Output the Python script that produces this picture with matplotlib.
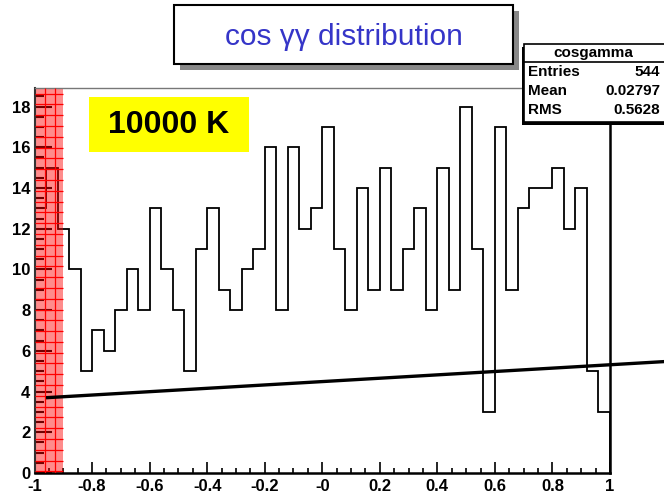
import matplotlib.pyplot as plt
import numpy as np
from matplotlib.patches import Rectangle
from matplotlib.lines import Line2D
from matplotlib.ticker import FixedLocator, FixedFormatter, MultipleLocator

plt.rcParams['font.family'] = ['Liberation Sans', 'DejaVu Sans']

# cos(gamma gamma) histogram, 50 bins on [-1, 1]
x_min, x_max, n_bins = -1.0, 1.0, 50
counts = [13, 15, 12, 10, 5, 7, 6, 8, 10, 8,
          13, 10, 8, 5, 11, 13, 9, 8, 10, 11,
          16, 8, 16, 12, 13, 17, 11, 8, 14, 9,
          15, 9, 11, 13, 8, 15, 9, 18, 11, 3,
          17, 9, 13, 14, 14, 15, 12, 14, 5, 3]

# straight-line fit y = p0 + p1*x
fit_p0, fit_p1 = 4.49, 0.826
fit_range = (-0.96, 1.19)

# excluded region (shaded red, gridded)
cut_range = (-1.0, -0.9)

xtick_vals = [-1, -0.8, -0.6, -0.4, -0.2, 0, 0.2, 0.4, 0.6, 0.8, 1]
xtick_labels = ['-1', '-0.8', '-0.6', '-0.4', '-0.2', '-0', '0.2', '0.4', '0.6', '0.8', '1']
ytick_vals = [0, 2, 4, 6, 8, 10, 12, 14, 16, 18]

title = 'cos γγ distribution'
label = '10000 K'
stats_name = 'cosgamma'
stats_rows = [('Entries', '544'), ('Mean', '0.02797'), ('RMS', '0.5628')]

W, H = 664, 494
YTOP = 18.91


def fx(px):
    return px / W


def fy(py):
    return 1 - py / H


fig = plt.figure(figsize=(W / 100, H / 100), dpi=100)
ax = fig.add_axes([fx(34.5), fy(473), fx(610) - fx(34.5), (473 - 88) / H])

edges = np.linspace(x_min, x_max, n_bins + 1)
ax.stairs(counts, edges, color='black', linewidth=1.3, zorder=1.8)

# red band over the cut region, with its own grid
ax.add_patch(Rectangle((cut_range[0], 0), cut_range[1] - cut_range[0], YTOP,
                       facecolor=(1, 0, 0, 0.45), edgecolor='none', zorder=2.5))
ax.vlines(np.arange(cut_range[0] + 0.036, cut_range[1], 0.036), 0, YTOP,
          color='red', linewidth=0.9, zorder=2.6)
ax.hlines(np.arange(0.08, YTOP, 0.53), cut_range[0], cut_range[1],
          color='red', linewidth=0.9, zorder=2.6)

fx_line = np.array(fit_range)
ax.plot(fx_line, fit_p0 + fit_p1 * fx_line, color='black', linewidth=2.4,
        clip_on=False, zorder=3, solid_capstyle='butt')

ax.set_xlim(x_min, x_max)
ax.set_ylim(0, YTOP)

ax.xaxis.set_major_locator(FixedLocator(xtick_vals))
ax.xaxis.set_major_formatter(FixedFormatter(xtick_labels))
ax.xaxis.set_minor_locator(MultipleLocator(0.05))
ax.yaxis.set_major_locator(FixedLocator(ytick_vals))
ax.yaxis.set_minor_locator(MultipleLocator(0.5))

ax.tick_params(axis='x', which='major', direction='in', length=8, width=1.2, pad=4,
               labelsize=12)
ax.tick_params(axis='x', which='minor', direction='in', length=3.8, width=1.2)
ax.tick_params(axis='y', which='major', direction='in', length=12.5, width=1.5, pad=3,
               labelsize=12)
ax.tick_params(axis='y', which='minor', direction='in', length=6.5, width=1.5)
for lab in ax.get_xticklabels() + ax.get_yticklabels():
    lab.set_fontweight('bold')

ax.spines['top'].set_color('#777777')
ax.spines['top'].set_linewidth(1.0)
ax.spines['left'].set_color('#333333')
ax.spines['left'].set_linewidth(1.5)
ax.spines['bottom'].set_linewidth(1.8)
ax.spines['right'].set_linewidth(1.8)

# title box with grey shadow
fig.add_artist(Rectangle((fx(180), fy(70)), fx(513) - fx(174), (64 - 5) / H,
                         transform=fig.transFigure, facecolor='#888888',
                         edgecolor='none', zorder=1))
fig.add_artist(Rectangle((fx(174), fy(64)), fx(513) - fx(174), (64 - 5) / H,
                         transform=fig.transFigure, facecolor='white',
                         edgecolor='black', linewidth=1.5, zorder=1.1))
fig.text(fx(343.5), fy(37), title, color='#3535c8', fontsize=21.5,
         ha='center', va='center', zorder=3)

# yellow temperature label
fig.add_artist(Rectangle((fx(89), fy(152)), fx(249) - fx(89), (152 - 97) / H,
                         transform=fig.transFigure, facecolor='#ffff00',
                         edgecolor='none', zorder=1))
fig.text(fx(169), fy(124.5), label, color='black', fontsize=23, fontweight='bold',
         ha='center', va='center', zorder=3)

# stats box
fig.add_artist(Rectangle((fx(522), fy(125)), fx(680) - fx(524), (122 - 44) / H,
                         transform=fig.transFigure, facecolor='black',
                         edgecolor='none', zorder=1))
fig.add_artist(Rectangle((fx(524), fy(122)), fx(680) - fx(524), (122 - 44) / H,
                         transform=fig.transFigure, facecolor='white',
                         edgecolor='black', linewidth=1.2, zorder=1.1))
fig.add_artist(Line2D([fx(524), fx(664)], [fy(62), fy(62)], transform=fig.transFigure,
                      color='black', linewidth=1.2, zorder=1.2))
fig.text(fx(593), fy(52.5), stats_name, fontsize=11, fontweight='bold',
         ha='center', va='center', zorder=3)
for i, (name, val) in enumerate(stats_rows):
    y = fy(72 + 19.2 * i)
    fig.text(fx(528), y, name, fontsize=11, fontweight='bold', ha='left',
             va='center', zorder=3)
    fig.text(fx(660), y, val, fontsize=11, fontweight='bold', ha='right',
             va='center', zorder=3)

fig.savefig('out.png', dpi=100)
